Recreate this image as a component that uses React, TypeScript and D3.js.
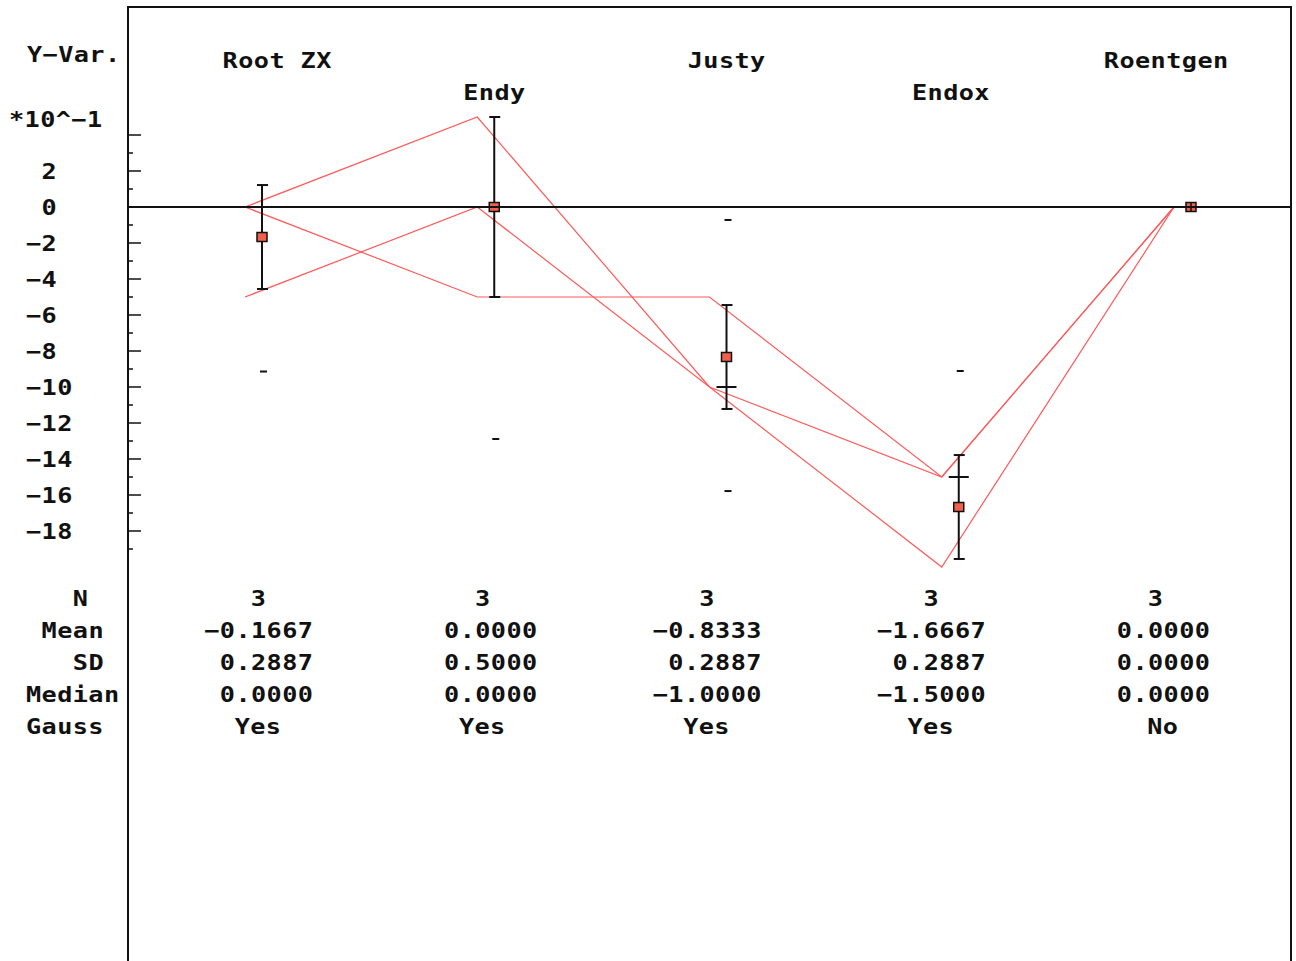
import React from "react";
import * as d3 from "d3";

// ---------- data ----------
const categories = ["Root ZX", "Endy", "Justy", "Endox", "Roentgen"];
// individual observations (three subjects), original units
const subject1 = [0, 0.5, -1.0, -2.0, 0];
const subject2 = [0, -0.5, -0.5, -1.5, 0];
const subject3 = [-0.5, 0, -1.0, -1.5, 0];
const nValues = [3, 3, 3, 3, 3];
const means = [-0.1667, 0.0, -0.8333, -1.6667, 0.0];
const sds = [0.2887, 0.5, 0.2887, 0.2887, 0.0];
const medians = [0.0, 0.0, -1.0, -1.5, 0.0];
const gauss = ["Yes", "Yes", "Yes", "Yes", "No"];
const ciLow = [-0.914, -1.289, -1.578, -2.412, 0];
const ciHigh = [0.581, 1.289, -0.072, -0.911, 0];
const statLabels = ["N", "Mean", "SD", "Median", "Gauss"];
const tickValues = d3.range(4, -20, -1).map((v) => v / 10); // 0.4 .. -1.9

// ---------- layout ----------
const W = 1296;
const H = 961;
const FONT = "'DejaVu Sans Mono', 'Liberation Mono', monospace";
const FS = 21;
const SX = 1.2;
const ADV = FS * 0.6021;
const CELL = 15.6;
const LS = CELL / SX - ADV;
const labelShift = [15, 0, 0, -8, -25];
const statLabelCol = [3, 1, 3, 0, 0];
const RED = "#ff5a5a";
const MARK = "#f25f4a";

const x = d3.scaleLinear().domain([0, categories.length - 1]).range([262, 1191]);
const y = d3.scaleLinear().domain([0, -1]).range([207, 387]);
const statX = d3.scaleLinear().domain([0, categories.length - 1]).range([258, 1155]);
const fmt4 = d3.format(".4f");

const inkWidth = (s: string) => s.length * CELL - LS * SX;
const startFromCenter = (s: string, c: number) => c - inkWidth(s) / 2;
const startFromRight = (s: string, r: number) => r - inkWidth(s);

function T({ x, y, s }: { x: number; y: number; s: string }) {
  return (
    <text
      transform={`translate(${x},${y}) scale(${SX},1)`}
      fontFamily={FONT}
      fontSize={FS}
      fontWeight="bold"
      letterSpacing={LS}
      fill="#111"
    >
      {s}
    </text>
  );
}

export default function App() {
  const subjects = [subject1, subject2, subject3];
  const line = d3
    .line<number>()
    .x((_, i) => x(i) - 17)
    .y((d) => y(d));

  const inRange = (v: number) => v <= 0.45 && v >= -1.95;

  const rowBase = (r: number) => 606 + r * 32;

  const statRows: string[][] = [
    nValues.map((v) => String(v)),
    means.map((v) => fmt4(v)),
    sds.map((v) => fmt4(v)),
    medians.map((v) => fmt4(v)),
    gauss,
  ];
  const rightOffset = [8, 55, 55, 55, 23];

  return (
    <svg width={W} height={H} style={{ position: "absolute", left: 0, top: 0, background: "#fff" }}>
      <rect x={0} y={0} width={W} height={H} fill="#fff" />
      {/* frame */}
      <line x1={128} y1={7} x2={128} y2={H} stroke="#111" strokeWidth={2} />
      <line x1={127} y1={7} x2={1292} y2={7} stroke="#111" strokeWidth={2} />
      <line x1={1291} y1={7} x2={1291} y2={H} stroke="#111" strokeWidth={2} />

      {/* y axis ticks */}
      {tickValues.map((v, i) => {
        const even = Math.round(v * 10) % 2 === 0;
        return (
          <line
            key={"t" + i}
            x1={128}
            x2={even ? 141 : 133}
            y1={y(v)}
            y2={y(v)}
            stroke="#111"
            strokeWidth={1.5}
          />
        );
      })}
      {tickValues
        .filter((v) => Math.round(v * 10) % 2 === 0 && v < 0.35)
        .map((v, i) => {
          const n = Math.round(v * 10);
          const s = n < 0 ? "\u2212" + Math.abs(n) : String(n);
          return <T key={"tl" + i} x={n < 0 ? 26 : 26 + CELL} y={y(v) + 8} s={s} />;
        })}
      <T x={27} y={62} s={"Y\u2212Var."} />
      <T x={9} y={127} s={"*10^\u22121"} />

      {/* category labels */}
      {categories.map((c, i) => (
        <T key={"c" + i} x={startFromCenter(c, x(i) + labelShift[i])} y={i % 2 ? 100 : 68} s={c} />
      ))}

      {/* subject lines */}
      {subjects.map((s, k) => (
        <path key={"s" + k} d={line(s) || ""} fill="none" stroke={RED} strokeWidth={1.2} />
      ))}

      {/* confidence limit dashes */}
      {categories.map((_, i) => (
        <g key={"ci" + i}>
          {[ciLow[i], ciHigh[i]]
            .filter((v) => inRange(v))
            .map((v, j) => (
              <line key={j} x1={x(i) - 2} x2={x(i) + 5} y1={y(v)} y2={y(v)} stroke="#111" strokeWidth={2} />
            ))}
        </g>
      ))}

      {/* error bars */}
      {categories.map((_, i) => {
        const top = y(means[i] + sds[i]);
        const bot = y(means[i] - sds[i]);
        return (
          <g key={"e" + i}>
            <line x1={x(i)} x2={x(i)} y1={top} y2={bot} stroke="#111" strokeWidth={2} />
            <line x1={x(i) - 5} x2={x(i) + 6} y1={top} y2={top} stroke="#111" strokeWidth={2} />
            <line x1={x(i) - 5} x2={x(i) + 6} y1={bot} y2={bot} stroke="#111" strokeWidth={2} />
          </g>
        );
      })}

      {/* markers */}
      {categories.map((_, i) => (
        <rect
          key={"m" + i}
          x={x(i) - 5}
          y={y(means[i]) - 4.5}
          width={10}
          height={9}
          fill={MARK}
          stroke="#111"
          strokeWidth={1.5}
        />
      ))}
      {categories.map((_, i) =>
        sds[i] === 0 ? (
          <line key={"z" + i} x1={x(i)} x2={x(i)} y1={y(means[i]) - 4} y2={y(means[i]) + 4} stroke="#111" strokeWidth={1.5} />
        ) : null
      )}

      {/* medians */}
      {categories.map((_, i) => (
        <line
          key={"md" + i}
          x1={x(i) - 10}
          x2={x(i) + 10}
          y1={y(medians[i])}
          y2={y(medians[i])}
          stroke="#111"
          strokeWidth={2}
        />
      ))}

      {/* zero line */}
      <line x1={128} x2={1291} y1={y(0)} y2={y(0)} stroke="#111" strokeWidth={2} />

      {/* stats table */}
      {statLabels.map((l, r) => (
        <T key={"sl" + r} x={26 + statLabelCol[r] * CELL} y={rowBase(r)} s={l} />
      ))}
      {statRows.map((row, r) =>
        row.map((s, i) => (
          <T key={"sv" + r + "-" + i} x={startFromRight(s, statX(i) + rightOffset[r])} y={rowBase(r)} s={s} />
        ))
      )}
    </svg>
  );
}
